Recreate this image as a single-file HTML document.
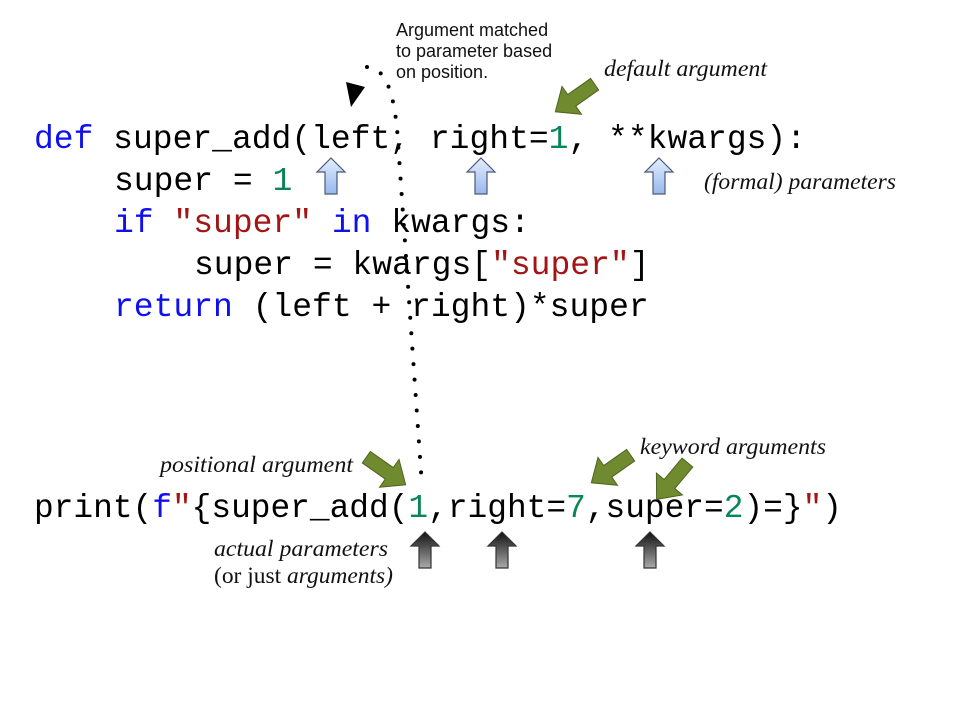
<!DOCTYPE html>
<html><head><meta charset="utf-8"><style>
html,body{margin:0;padding:0;background:#fff;}
svg{display:block;}
.code{font-family:"Liberation Mono",monospace;font-size:33px;fill:#000;}
.kw{fill:#1010ee}.st{fill:#a31515}.nm{fill:#098658}
.ann{font-family:"Liberation Serif",serif;font-style:italic;font-size:23px;fill:#111;}
.sans{font-family:"Liberation Sans",sans-serif;font-size:18px;fill:#111;}
</style></head><body>
<svg width="960" height="720" viewBox="0 0 960 720">
<defs>
<linearGradient id="blueg" x1="0" y1="0" x2="0" y2="1"><stop offset="0" stop-color="#e4eeff"/><stop offset="1" stop-color="#98b8ec"/></linearGradient>
<linearGradient id="darkg" x1="0" y1="0" x2="0" y2="1"><stop offset="0" stop-color="#111"/><stop offset="1" stop-color="#aaa"/></linearGradient>
<path id="uparrow" d="M0,-18 L14,-4 L6,-4 L6,18 L-6,18 L-6,-4 L-14,-4 Z"/>
<path id="greenarrow" d="M-24,-7 L4,-7 L4,-17 L24,0 L4,17 L4,7 L-24,7 Z"/>
</defs>

<g>
<text class="code" x="34" y="148" textLength="772" lengthAdjust="spacingAndGlyphs"><tspan class="kw">def</tspan> super_add(left, right=<tspan class="nm">1</tspan>, **kwargs):</text>
<text class="code" x="114" y="190">super = <tspan class="nm">1</tspan></text>
<text class="code" x="114" y="232"><tspan class="kw">if</tspan> <tspan class="st">"super"</tspan> <tspan class="kw">in</tspan> kwargs:</text>
<text class="code" x="194" y="274">super = kwargs[<tspan class="st">"super"</tspan>]</text>
<text class="code" x="114" y="316"><tspan class="kw">return</tspan> (left + right)*super</text>
</g>
<text class="code" x="34" y="517" textLength="808" lengthAdjust="spacingAndGlyphs">print(<tspan class="kw">f</tspan><tspan class="st">"</tspan>{super_add(<tspan class="nm">1</tspan>,right=<tspan class="nm">7</tspan>,super=<tspan class="nm">2</tspan>)=}<tspan class="st">"</tspan>)</text>

<path d="M367,67 C386,68 393,92 397,128 L422,486" fill="none" stroke="#000" stroke-width="4" stroke-linecap="round" stroke-dasharray="0 15.5"/>
<polygon points="346,82 365,87 351,107" fill="#000"/>

<text class="sans"><tspan x="396" y="36">Argument matched</tspan><tspan x="396" y="57">to parameter based</tspan><tspan x="396" y="78">on position.</tspan></text>

<g fill="url(#blueg)" stroke="#4a5a7a" stroke-width="1.2">
<use href="#uparrow" transform="translate(331,176)"/>
<use href="#uparrow" transform="translate(481,176)"/>
<use href="#uparrow" transform="translate(659,176)"/>
</g>
<g fill="url(#darkg)" stroke="#333" stroke-width="1.2">
<use href="#uparrow" transform="translate(425,550)"/>
<use href="#uparrow" transform="translate(502,550)"/>
<use href="#uparrow" transform="translate(650,550)"/>
</g>
<g fill="#6f8a2f" stroke="#4f6420" stroke-width="1">
<use href="#greenarrow" transform="translate(575,98) rotate(145)"/>
<use href="#greenarrow" transform="translate(386,471) rotate(35)"/>
<use href="#greenarrow" transform="translate(611,469) rotate(145)"/>
<use href="#greenarrow" transform="translate(672,481) rotate(130)"/>
</g>

<text class="ann" x="604" y="76" textLength="163" lengthAdjust="spacingAndGlyphs">default argument</text>
<text class="ann" x="704" y="189" textLength="192" lengthAdjust="spacingAndGlyphs">(formal) parameters</text>
<text class="ann" x="160" y="472" textLength="193" lengthAdjust="spacingAndGlyphs">positional argument</text>
<text class="ann" x="640" y="454" textLength="186" lengthAdjust="spacingAndGlyphs">keyword arguments</text>
<text class="ann" x="214" y="556" textLength="174" lengthAdjust="spacingAndGlyphs">actual parameters</text>
<text class="ann" x="214" y="583" textLength="179" lengthAdjust="spacingAndGlyphs"><tspan style="font-style:normal">(or just </tspan>arguments)</text>
</svg>
</body></html>
